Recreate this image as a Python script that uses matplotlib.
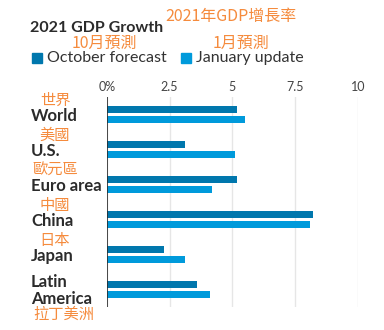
import numpy as np
import matplotlib.pyplot as plt
from matplotlib.patches import Rectangle
from matplotlib.transforms import blended_transform_factory

regions = ['World', 'U.S.', 'Euro area', 'China', 'Japan', 'Latin\nAmerica']
regions_zh = ['世界', '美國', '歐元區', '中國', '日本', '拉丁美洲']
october = [5.2, 3.1, 5.2, 8.2, 2.3, 3.6]
january = [5.5, 5.1, 4.2, 8.1, 3.1, 4.1]
ticks = [0, 2.5, 5, 7.5, 10]
tick_labels = ['0%', '2.5', '5', '7.5', '10']

c_oct = '#0077AD'
c_jan = '#009ADB'
orange = '#F58B3D'
dark = '#2B2B2B'
en = ['Lato', 'DejaVu Sans']
zh = ['Noto Sans CJK TC', 'DejaVu Sans']

W, H = 384, 330
fig = plt.figure(figsize=(W / 100, H / 100), dpi=100)
# axes box in pixels: x 106.7..358 (0..10), y 97..306.7 from top
ax = fig.add_axes([106.7 / W, 1 - 306.7 / H, (358 - 106.7) / W, (306.7 - 97) / H])

y = np.arange(len(regions))
off, h = 0.143, 0.19
ax.barh(y - off, october, height=h, color=c_oct, zorder=3)
ax.barh(y + off, january, height=h, color=c_jan, zorder=3)

ax.set_xlim(0, 10)
ax.set_ylim(len(regions) - 0.5, -0.5)
ax.set_xticks(ticks)
ax.set_xticklabels(tick_labels, fontfamily=en, fontsize=9, color='#444444')
ax.xaxis.tick_top()
ax.tick_params(axis='x', length=0, pad=3)
ax.set_yticks([])
for s in ax.spines.values():
    s.set_visible(False)
ax.grid(axis='x', color='#E6E6E6', linewidth=1, zorder=0)
ax.axvline(0, color=dark, linewidth=1.2, zorder=4)

# category labels, English and Chinese
tr = blended_transform_factory(fig.transFigure, ax.transData)
for i, (name, name_zh) in enumerate(zip(regions, regions_zh)):
    if '\n' in name:
        ax.text(31 / W, i + 0.04, name, transform=tr, ha='left', va='center',
                fontfamily=en, fontweight='bold', fontsize=12, color=dark,
                linespacing=1.1, clip_on=False)
        ax.text(33 / W, i + 0.73, name_zh, transform=tr, ha='left', va='center',
                fontfamily=zh, fontsize=11, color=orange, clip_on=False)
    else:
        ax.text(31 / W, i + 0.05, name, transform=tr, ha='left', va='center',
                fontfamily=en, fontweight='bold', fontsize=12, color=dark,
                clip_on=False)
        ax.text(55 / W, i - 0.4, name_zh, transform=tr, ha='center', va='center',
                fontfamily=zh, fontsize=11, color=orange, clip_on=False)

# title and legend
fig.text(30 / W, 1 - 28 / H, '2021 GDP Growth', fontfamily=en, fontweight='bold',
         fontsize=11.5, color=dark, va='center', ha='left')
fig.text(231 / W, 1 - 16 / H, '2021年GDP增長率', fontfamily=zh, fontsize=11.5,
         color=orange, va='center', ha='center')
fig.text(104 / W, 1 - 43 / H, '10月預測', fontfamily=zh, fontsize=11.5,
         color=orange, va='center', ha='center')
fig.text(241 / W, 1 - 43 / H, '1月預測', fontfamily=zh, fontsize=11.5,
         color=orange, va='center', ha='center')

for x0, col, lab in [(32, c_oct, 'October forecast'), (181, c_jan, 'January update')]:
    fig.patches.append(Rectangle((x0 / W, 1 - 63 / H), 10 / W, 10 / H,
                                 transform=fig.transFigure, color=col))
    fig.text((x0 + 15) / W, 1 - 58 / H, lab, fontfamily=en, fontsize=11.5,
             color='#333333', va='center', ha='left')

fig.savefig('out.png', dpi=100, facecolor='white')
